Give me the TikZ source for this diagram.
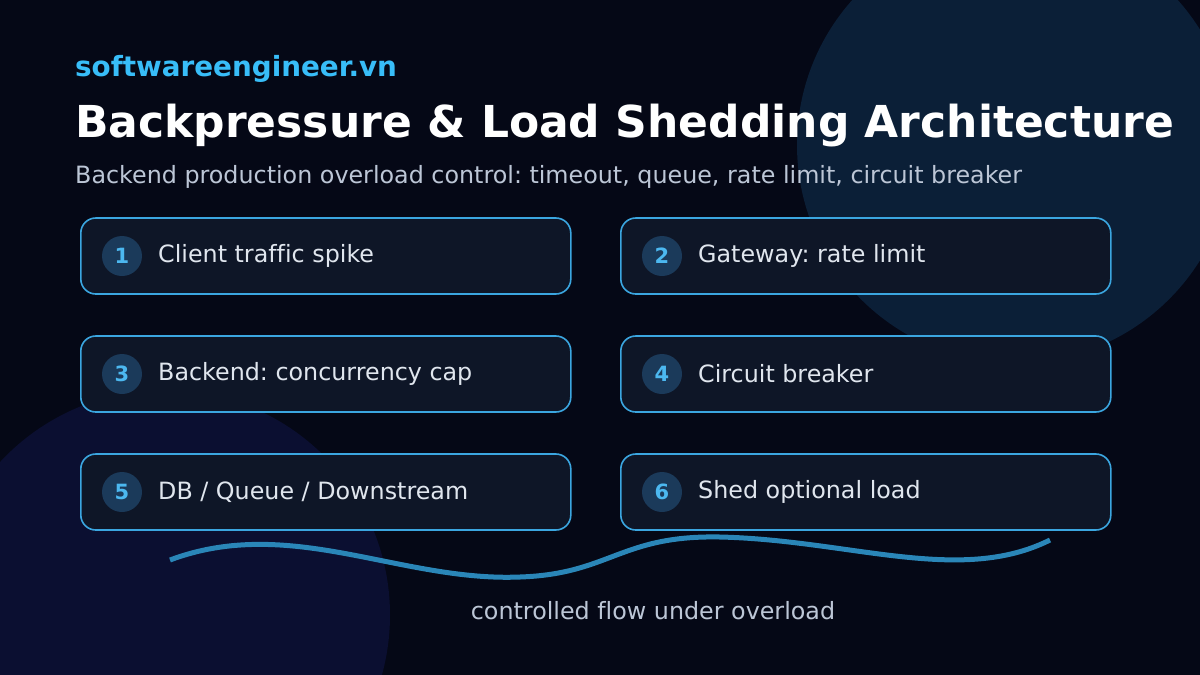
\documentclass[tikz,border=0pt]{standalone}
\usepackage{fontspec}
\setmainfont{DejaVu Sans}[Ligatures=NoCommon]
\frenchspacing
\definecolor{bg}{HTML}{050816}
\definecolor{circA}{HTML}{0B1F37}
\definecolor{circB}{HTML}{0B0F31}
\definecolor{boxfill}{HTML}{0E1627}
\definecolor{boxline}{HTML}{3BA6E0}
\definecolor{numfill}{HTML}{1B3A5A}
\definecolor{numtxt}{HTML}{4CB8F0}
\definecolor{lbl}{HTML}{E0E6EE}
\definecolor{brand}{HTML}{38BDF8}
\definecolor{sub}{HTML}{BCC6D6}
\definecolor{wave}{HTML}{2A86B8}
\begin{document}
\begin{tikzpicture}[x=1pt,y=-1pt,
  stepbox/.style={draw=boxline,line width=1.6pt,fill=boxfill,rounded corners=15pt,minimum width=490pt,minimum height=76pt,anchor=west},
  numc/.style={circle,fill=numfill,minimum size=40pt,inner sep=0pt,text=numtxt,font=\fontsize{21}{24}\selectfont\bfseries},
  lab/.style={anchor=west,text=lbl,font=\fontsize{23.8}{28}\selectfont,inner sep=0pt}]
\useasboundingbox (0,0) rectangle (1200,675);
\fill[bg] (0,0) rectangle (1200,675);
\begin{scope}
\clip (0,0) rectangle (1200,675);
\fill[circA] (1015,145) circle (218);
\fill[circB] (165,615) circle (225);
\end{scope}
\node[anchor=base west,inner sep=0pt,text=brand,font=\fontsize{27.8}{32}\selectfont\bfseries] (brand) at (75,76) {softwareengineer.vn};
\node[anchor=base west,inner sep=0pt,text=white,font=\fontsize{44}{50}\selectfont\bfseries] (title) at (75,137) {Backpressure \& Load Shedding Architecture};
\node[anchor=base west,inner sep=0pt,text=sub,font=\fontsize{23.8}{28}\selectfont] (subt) at (75,183) {Backend production overload control: timeout, queue, rate limit, circuit breaker};
\foreach \n/\x/\y/\t in {1/80/256/{Client traffic spike},2/620/256/{Gateway: rate limit},3/80/374/{Backend: concurrency cap},4/620/374/{Circuit breaker},5/80/492/{DB / Queue / Downstream},6/620/492/{Shed optional load}}{
  \node[stepbox] (b\n) at (\x,\y) {};
  \node[numc] (n\n) at ([xshift=42pt]b\n.west) {\n};
  \node[lab] (l\n) at ([xshift=78pt]b\n.west) {\t};
}
\coordinate (w0) at (170,560);
\coordinate (w1) at (1050,540);
\draw[wave,line width=5pt] (w0) .. controls (290,515) and (400,582) .. (520,577) .. controls (610,574) and (620,535) .. (720,537) .. controls (850,540) and (960,585) .. (w1);
\node[text=sub,font=\fontsize{23.8}{28}\selectfont] (foot) at (653,611) {controlled flow under overload};
\end{tikzpicture}
\end{document}
